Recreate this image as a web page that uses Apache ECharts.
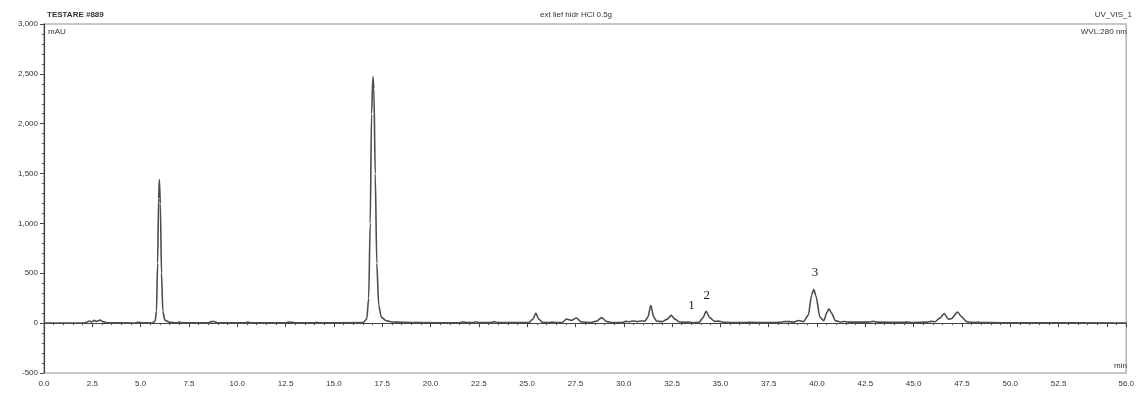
<!DOCTYPE html>
<html>
<head>
<meta charset="utf-8">
<script src="https://cdn.jsdelivr.net/npm/echarts@6/dist/echarts.min.js"></script>
<style>
  html, body { margin: 0; padding: 0; background: #fff; }
  #chart { width: 1137px; height: 394px; }
</style>
</head>
<body>
<div id="chart"></div>
<script>
// retention time (min) and detector signal (mAU)
var timeMin = [
    0, 2.0, 2.2, 2.35, 2.45, 2.6, 2.7, 2.9, 3.05, 3.3,
    4.7, 4.9, 5.1, 5.6, 5.75, 5.82, 5.88, 5.93, 5.97, 6.02,
    6.08, 6.15, 6.25, 6.5, 6.9, 7.0, 7.15, 8.5, 8.65, 8.8,
    9.0, 10.4, 10.55, 10.7, 12.5, 12.65, 12.85, 13.0, 14.0, 14.1,
    14.25, 16.5, 16.7, 16.8, 16.88, 16.95, 17.02, 17.07, 17.14, 17.22,
    17.32, 17.45, 17.7, 18.0, 18.6, 19.5, 21.5, 21.7, 21.9, 22.2,
    22.35, 22.5, 23.1, 23.3, 23.45, 25.1, 25.3, 25.45, 25.6, 25.8,
    26.2, 26.3, 26.45, 26.8, 27.05, 27.3, 27.55, 27.8, 28.3, 28.6,
    28.85, 29.1, 29.4, 29.9, 30.1, 30.3, 30.5, 30.7, 30.9, 31.1,
    31.25, 31.4, 31.55, 31.7, 32.0, 32.25, 32.45, 32.65, 32.9, 33.2,
    33.35, 33.5, 33.9, 34.1, 34.26, 34.45, 34.7, 34.9, 35.2, 36.0,
    36.5, 37.5, 38.1, 38.3, 38.55, 38.8, 39.05, 39.3, 39.55, 39.72,
    39.83, 39.95, 40.15, 40.35, 40.52, 40.62, 40.75, 40.95, 41.2, 41.4,
    41.6, 42.7, 42.9, 43.1, 44.5, 44.7, 44.9, 45.7, 45.9, 46.1,
    46.35, 46.58, 46.8, 46.95, 47.27, 47.5, 47.75, 48.0, 48.2, 48.3,
    48.45, 49.5, 51.5, 56
];
var signalMAU = [
    0, 0, 8, 22, 12, 28, 18, 30, 15, 3,
    2, 8, 3, 2, 20, 120, 600, 1250, 1440, 1200,
    500, 120, 30, 8, 4, 10, 3, 3, 15, 16,
    4, 3, 10, 3, 4, 10, 9, 3, 3, 9,
    3, 5, 40, 250, 1000, 2100, 2470, 2350, 1500, 600,
    180, 60, 25, 12, 8, 5, 4, 12, 5, 6,
    14, 5, 5, 15, 5, 6, 40, 100, 40, 8,
    5, 12, 5, 6, 42, 28, 52, 12, 6, 20,
    55, 18, 6, 6, 18, 14, 22, 15, 22, 20,
    60, 180, 60, 20, 15, 40, 78, 40, 12, 8,
    12, 6, 8, 55, 118, 55, 18, 20, 8, 6,
    8, 6, 8, 16, 15, 10, 26, 15, 80, 280,
    340, 270, 60, 25, 110, 145, 100, 25, 12, 17,
    10, 10, 18, 10, 8, 12, 7, 10, 18, 14,
    50, 95, 40, 45, 110, 60, 15, 8, 7, 12,
    6, 4, 3, 2
];
// peak numbers written above the trace
var peakNames = ['1', '2', '3'];
var peakTime = [33.5, 34.3, 39.9];
var peakTextMAU = [180, 280, 510];

var chart = echarts.init(document.getElementById('chart'));

var trace = timeMin.map(function (t, i) { return [t, signalMAU[i]]; });
var marks = peakNames.map(function (n, i) {
    return { name: n, coord: [peakTime[i], peakTextMAU[i]], value: n };
});

var fontSans = 'Liberation Sans, Arial, sans-serif';

var option = {
    backgroundColor: '#fff',
    animation: false,
    grid: {
        left: 44, right: 7, top: 24, bottom: 21,
        show: true, borderColor: '#b5b5b5', borderWidth: 1.5
    },
    xAxis: {
        type: 'value',
        min: 0, max: 56, interval: 2.5,
        offset: 2,
        axisLine: { lineStyle: { color: '#444', width: 1.2 } },
        axisTick: { length: 4, lineStyle: { color: '#444' } },
        minorTick: { show: true, splitNumber: 5, length: 2, lineStyle: { color: '#555' } },
        splitLine: { show: false },
        axisLabel: {
            margin: 5, fontFamily: fontSans, fontSize: 8, color: '#333',
            showMaxLabel: true,
            formatter: function (v) { return v === 55 ? '' : v.toFixed(1); }
        }
    },
    yAxis: {
        type: 'value',
        min: -500, max: 3000, interval: 500,
        offset: 3,
        axisLine: { show: true, lineStyle: { color: '#444', width: 1.2 } },
        axisTick: { show: true, length: 4, lineStyle: { color: '#444' } },
        minorTick: { show: true, splitNumber: 5, length: 2, lineStyle: { color: '#555' } },
        splitLine: { show: false },
        axisLabel: {
            margin: 3, fontFamily: fontSans, fontSize: 8, color: '#333',
            formatter: function (v) { return v.toLocaleString('en-US'); }
        }
    },
    graphic: [
        { type: 'text', left: 47, top: 11, style: { text: 'TESTARE #889', font: 'bold 8px Liberation Sans, Arial', fill: '#333' } },
        { type: 'text', left: 540, top: 11, style: { text: 'ext lief hidr HCl 0.5g', font: '8px Liberation Sans, Arial', fill: '#333' } },
        { type: 'text', right: 5, top: 11, style: { text: 'UV_VIS_1', font: '8px Liberation Sans, Arial', fill: '#333' } },
        { type: 'text', left: 48, top: 28, style: { text: 'mAU', font: '8px Liberation Sans, Arial', fill: '#333' } },
        { type: 'text', right: 10, top: 28, style: { text: 'WVL:280 nm', font: '8px Liberation Sans, Arial', fill: '#333' } },
        { type: 'text', right: 10, top: 362, style: { text: 'min', font: '8px Liberation Sans, Arial', fill: '#333' } }
    ],
    series: [{
        type: 'line',
        data: trace,
        showSymbol: false,
        smooth: 0.25,
        smoothMonotone: 'x',
        lineStyle: { color: '#4d4d4d', width: 1.6 },
        markPoint: {
            symbol: 'circle', symbolSize: 0,
            label: {
                show: true, position: 'inside',
                fontFamily: 'Liberation Serif, Times New Roman, serif',
                fontSize: 13, color: '#222',
                formatter: function (p) { return p.name; }
            },
            data: marks
        }
    }]
};

chart.setOption(option);
</script>
</body>
</html>
